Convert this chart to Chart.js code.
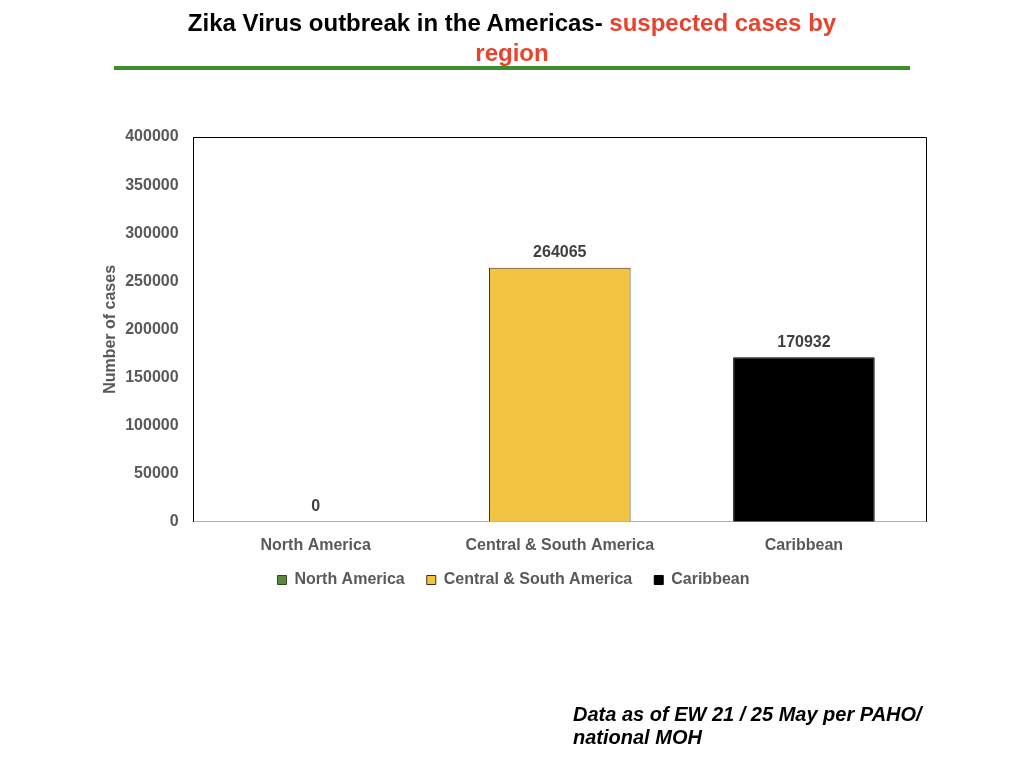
<!DOCTYPE html>
<html>
<head>
<meta charset="utf-8">
<script src="https://cdn.jsdelivr.net/npm/chart.js@4"></script>
<style>
  body { margin: 0; background: #fff; font-family: "Liberation Sans", Arial, sans-serif; }
  #page { position: relative; width: 1024px; height: 768px; overflow: hidden; }
  #title { position: absolute; left: 0; top: 8px; width: 1024px; text-align: center;
           font-weight: bold; font-size: 24px; line-height: 30px; color: #000; letter-spacing: 0px; }
  #title span { color: #e8432d; }
  #rule { position: absolute; left: 114px; top: 66px; width: 796px; height: 4px; background: #3e8e2e; }
  #note { position: absolute; left: 573px; top: 703px; font-weight: bold; font-style: italic;
          font-size: 20px; line-height: 23px; color: #000; }
  #wrap { position: absolute; left: 0; top: 0; width: 1024px; height: 768px; }
</style>
</head>
<body>
<div id="page">
  <div id="wrap"><canvas id="canvas"></canvas></div>
  <div id="title">Zika Virus outbreak in the Americas- <span>suspected cases by<br>region</span></div>
  <div id="rule"></div>
  <div id="note">Data as of EW 21 / 25 May per PAHO/<br>national MOH</div>
</div>
<script>
const regions = ["North America", "Central & South America", "Caribbean"];
const cases = [0, 264065, 170932];
const yTicks = [0, 50000, 100000, 150000, 200000, 250000, 300000, 350000, 400000];

const fillColors = ["#5b8a3c", "#f3c342", "#000000"];
const edgeColors = ["#2f4a1f", "#3a3320", "#000000"];
const grey = "#595959";

// frame round the plot area (top and right edges) and labels above bars
const framePlugin = {
  id: 'frame',
  afterDraw: (chart) => {
    const {ctx, chartArea: a} = chart;
    ctx.save();
    ctx.strokeStyle = "#000";
    ctx.lineWidth = 1;
    ctx.beginPath();
    ctx.moveTo(a.left, a.top + 0.5);
    ctx.lineTo(a.right + 0.5, a.top + 0.5);
    ctx.lineTo(a.right + 0.5, a.bottom);
    ctx.stroke();

    ctx.fillStyle = "#404040";
    ctx.font = "bold 16px 'Liberation Sans', Arial, sans-serif";
    ctx.textAlign = "center";
    ctx.textBaseline = "bottom";
    chart.getDatasetMeta(0).data.forEach((bar, i) => {
      ctx.fillText(String(cases[i]), bar.x, bar.y - 7);
    });
    ctx.restore();
  }
};

Chart.defaults.font.family = "'Liberation Sans', Arial, sans-serif";

new Chart(document.getElementById("canvas"), {
  type: 'bar',
  data: {
    labels: regions,
    datasets: [{
      label: 'Suspected cases',
      data: cases,
      backgroundColor: fillColors,
      borderColor: edgeColors,
      borderWidth: 1,
      barPercentage: 0.58,
      categoryPercentage: 1
    }]
  },
  options: {
    responsive: true,
    maintainAspectRatio: false,
    animation: false,
    layout: {
      padding: { left: 101, right: 98, top: 137, bottom: 170 }
    },
    plugins: {
      tooltip: { enabled: false },
      legend: {
        position: 'bottom',
        labels: {
          boxWidth: 9,
          boxHeight: 9,
          padding: 22,
          color: grey,
          font: { size: 16, weight: 'bold' },
          generateLabels: () => regions.map((r, i) => ({
            text: r,
            fillStyle: fillColors[i],
            strokeStyle: edgeColors[i],
            lineWidth: 1,
            fontColor: grey,
            hidden: false,
            index: i
          }))
        }
      }
    },
    scales: {
      x: {
        afterFit: (axis) => { axis.height -= 19; },
        grid: { display: false, drawTicks: false },
        border: { display: true, color: "#b0b0b0", width: 1 },
        ticks: { color: grey, font: { size: 16, weight: 'bold' }, padding: 14 }
      },
      y: {
        min: 0,
        max: 400000,
        afterBuildTicks: (axis) => { axis.ticks = yTicks.map((v) => ({value: v})); },
        afterFit: (axis) => { axis.width -= 10; },
        grid: { display: false, drawTicks: false },
        border: { display: true, color: "#000", width: 1 },
        ticks: {
          color: grey,
          font: { size: 16, weight: 'bold' },
          padding: 15,
          callback: (v) => String(v)
        },
        title: {
          display: true,
          text: 'Number of cases',
          color: grey,
          font: { size: 16, weight: 'bold' },
          padding: { top: 0, bottom: 0 }
        }
      }
    }
  },
  plugins: [framePlugin]
});
</script>
</body>
</html>
